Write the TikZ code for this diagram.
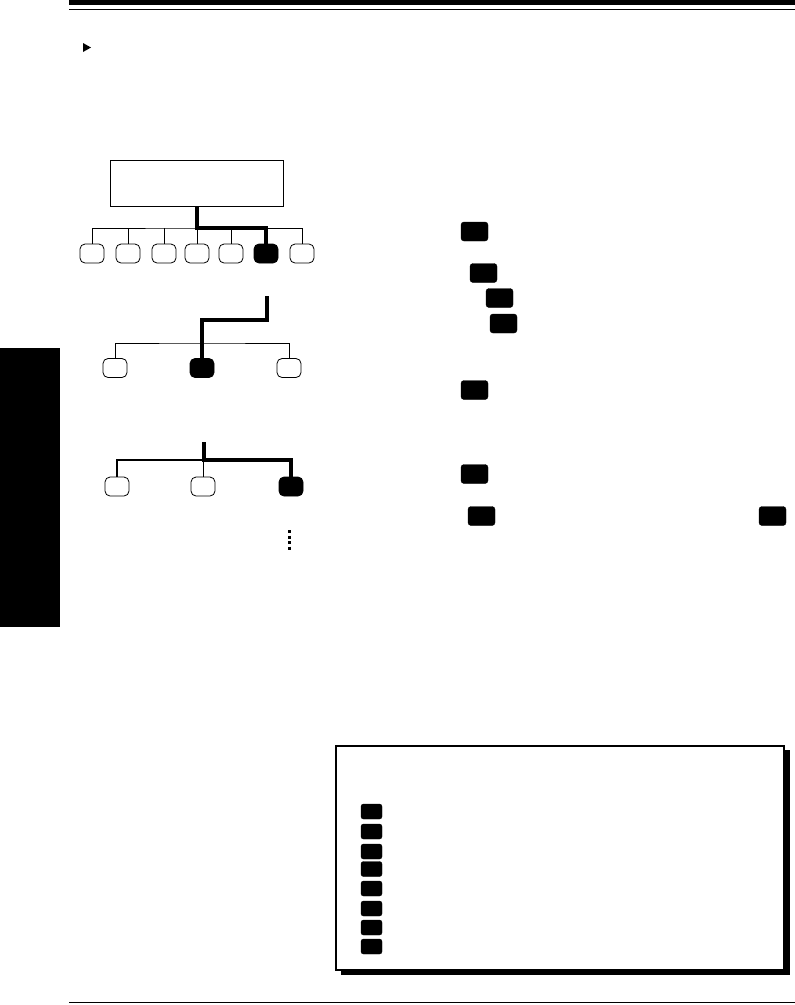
\documentclass[tikz,border=0pt]{standalone}
\usepackage{tikz}
\usetikzlibrary{positioning,calc}
\tikzset{
  opt/.style   ={draw=black, line width=0.8pt, fill=white,
                 rounded corners=5pt, minimum width=24pt,
                 minimum height=19pt, inner sep=0pt},
  opton/.style ={opt, fill=black},
  keyb/.style  ={draw=black, fill=black, rounded corners=3pt,
                 minimum width=27pt, minimum height=19pt, inner sep=0pt},
  keys/.style  ={keyb, rounded corners=2.5pt,
                 minimum width=21pt, minimum height=15pt},
  ln/.style    ={draw=black, line width=0.8pt},
  lnm/.style   ={draw=black, line width=2pt},
  lnb/.style   ={draw=black, line width=3.6pt}
}

\begin{document}
\begin{tikzpicture}[x=1pt,y=-1pt]
\useasboundingbox (0,0) rectangle (795,1005);
% page rules and marks
\fill (69,0) rectangle (795,5);
\draw[line width=1.2pt] (69,9.5) -- (795,9.5);
\draw[line width=1pt] (69,1002) -- (795,1002);
\fill (83,43) -- (91,47.5) -- (83,52) -- cycle;
\fill (0,348) rectangle (60,627);

% level 1
\node[draw, line width=0.9pt, minimum width=173pt, minimum height=46pt]
  (menu) at (197,183) {};
\node[opt]   (t1) at (92,253.5) {};
\node[opt]   (t2) at (128,253.5) {};
\node[opt]   (t3) at (164,253.5) {};
\node[opt]   (t4) at (197,253.5) {};
\node[opt]   (t5) at (231,253.5) {};
\node[opton] (t6) at (266,253.5) {};
\node[opt]   (t7) at (302,253.5) {};
\coordinate (bus1) at (197,228);
\draw[ln] (t1.north) |- (bus1) -| (t7.north);
\draw[ln] (t2.north) -- (t2.north |- bus1);
\draw[ln] (t3.north) -- (t3.north |- bus1);
\draw[ln] (t4.north) -- (t4.north |- bus1);
\draw[ln] (t5.north) -- (t5.north |- bus1);
\draw[lnb] (menu.south) -- (bus1) -| (t6.north);

% level 2
\node[opt]   (m1) at (115,368) {};
\node[opton] (m2) at (202,368) {};
\node[opt]   (m3) at (289,368) {};
\coordinate (top2) at (267,296);
\coordinate (bus2) at (202,343);
\draw[ln] (m1.north) |- (bus2) -| (m3.north);
\draw[lnb] (top2) -- ++(0,24) -| (m2.north);

% level 3
\node[opt]   (n1) at (117,486.5) {};
\node[opt]   (n2) at (203,486.5) {};
\node[opton] (n3) at (291,486.5) {};
\coordinate (top3) at (204,442);
\coordinate (bus3) at (204,460);
\draw[ln] (n2.north) -- (n2.north |- bus3);
\draw[lnm] (bus3) -| (n1.north);
\draw[lnb] (top3) -- (bus3) -| (n3.north);
\draw[line width=3pt, dash pattern=on 3pt off 2.5pt] (289,530) -- (289,551);

% keys in the text column
\node[keyb] (k1) at (474.5,231.5) {};
\node[keyb] (k2) at (483.5,273) {};
\node[keyb] (k3) at (499.5,298) {};
\node[keyb] (k4) at (503.5,323.5) {};
\node[keyb] (k5) at (474.5,390) {};
\node[keyb] (k6) at (474.5,474) {};
\node[keyb] (k7) at (481.5,516) {};
\node[keyb] (k8) at (772.5,516) {};

% boxed list
\fill (341,750) rectangle (790,975);
\node[draw, fill=white, line width=1.5pt, minimum width=448pt,
  minimum height=224pt] (panel) at (560,858) {};
\node[keys] (b1) at (371.5,811.5) {};
\node[keys] (b2) at (371.5,831.5) {};
\node[keys] (b3) at (371.5,851.5) {};
\node[keys] (b4) at (371.5,869) {};
\node[keys] (b5) at (371.5,888.5) {};
\node[keys] (b6) at (371.5,908.5) {};
\node[keys] (b7) at (371.5,927.5) {};
\node[keys] (b8) at (371.5,946.5) {};
\end{tikzpicture}
\end{document}
